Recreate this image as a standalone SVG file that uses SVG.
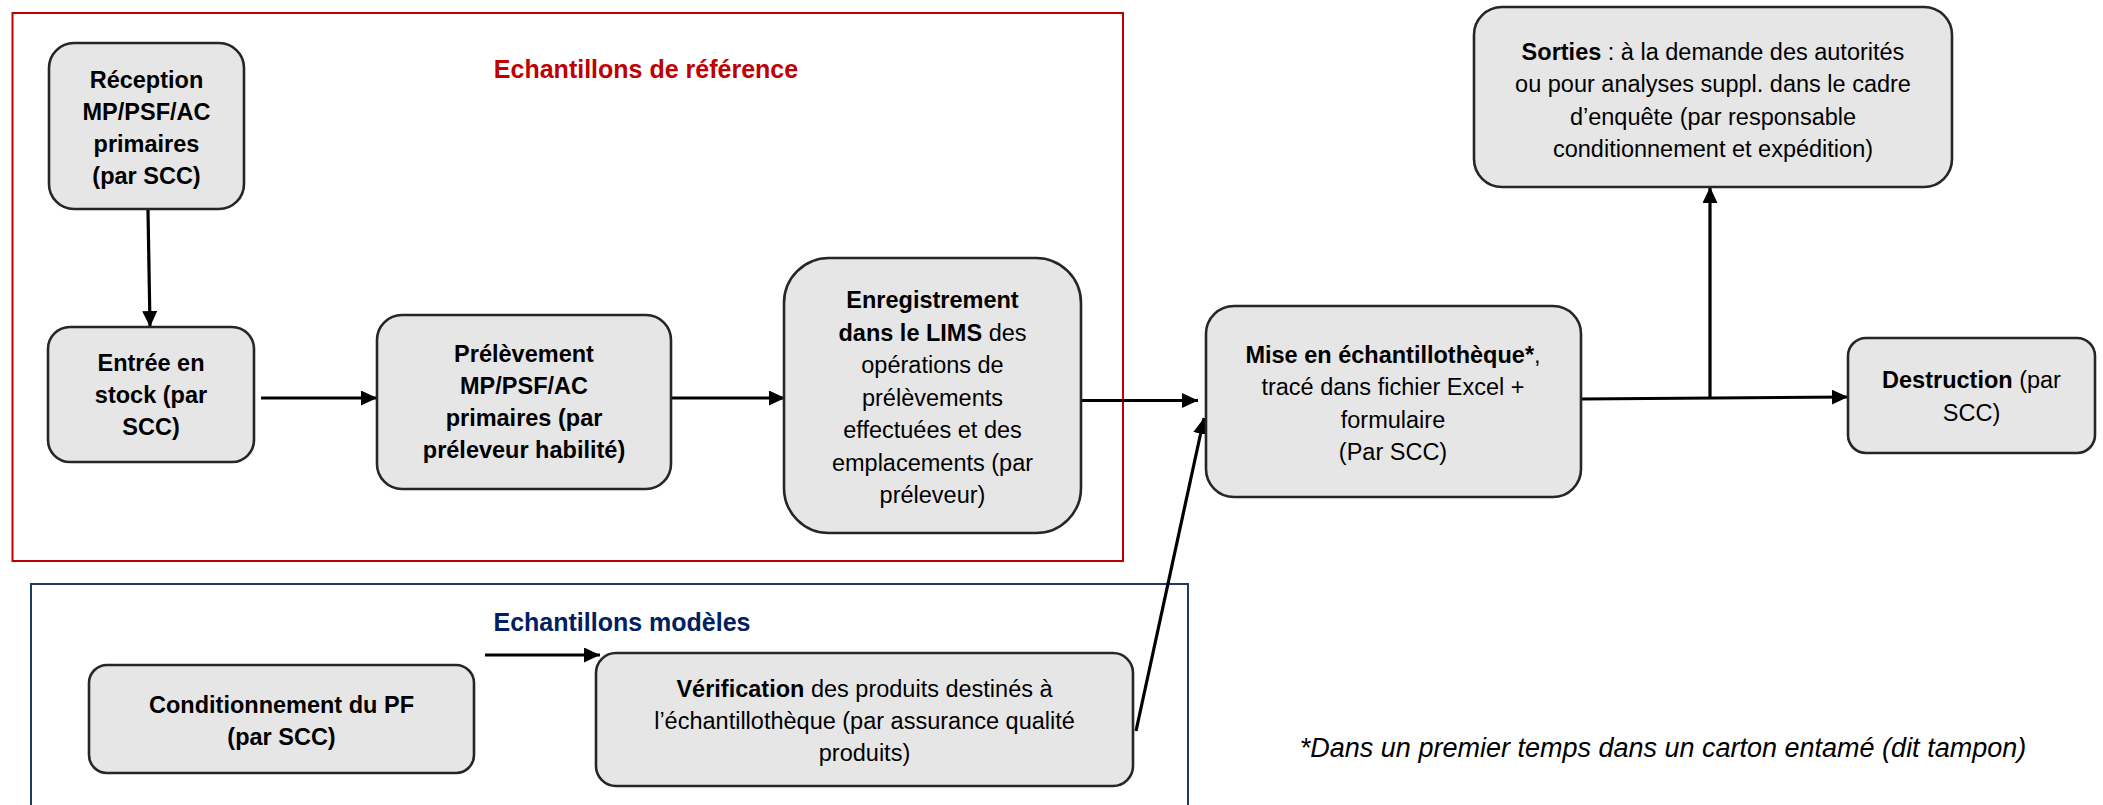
<svg xmlns="http://www.w3.org/2000/svg" width="2103" height="805" viewBox="0 0 2103 805">
<style>
.box{fill:#e6e6e6;stroke:#262626;stroke-width:2.6}
.t{font-family:"Liberation Sans",Arial,sans-serif;font-size:23.5px;fill:#000;text-anchor:middle}
.b{font-weight:bold}
.conn{stroke:#000;stroke-width:3.2;fill:none;marker-end:url(#ah)}
.title{font-family:"Liberation Sans",Arial,sans-serif;font-size:25px;font-weight:bold;text-anchor:middle}
</style>
<defs>
<marker id="ah" markerUnits="userSpaceOnUse" markerWidth="17" markerHeight="16" refX="16" refY="7.5" orient="auto">
<path d="M0,0 L16,7.5 L0,15 z" fill="#000"/>
</marker>
</defs>
<rect id="frame-reference" x="12.5" y="13" width="1110.5" height="548" fill="none" stroke="#c00000" stroke-width="2"/>
<rect id="frame-modeles" x="31" y="584" width="1157" height="240" fill="none" stroke="#203864" stroke-width="2"/>
<text class="title" x="646" y="78" fill="#c00000">Echantillons de référence</text>
<text class="title" x="622" y="631" fill="#002060">Echantillons modèles</text>
<g id="connectors">
<path class="conn" d="M148,210 L150,327"/>
<path class="conn" d="M261,398 L377,398"/>
<path class="conn" d="M671,398 L785,398"/>
<path class="conn" d="M1081,400.5 L1198,400.5"/>
<path class="conn" d="M1581,399 L1848,397"/>
<path class="conn" d="M1710,398 L1710,187"/>
<path class="conn" d="M485,655 L600,655"/>
<path class="conn" d="M1136,731 L1204,418"/>
</g>
<g id="reception">
<rect class="box" x="49" y="43" width="195" height="166" rx="25"/>
<text class="t b" x="146.5" y="88">Réception</text>
<text class="t b" x="146.5" y="120">MP/PSF/AC</text>
<text class="t b" x="146.5" y="152">primaires</text>
<text class="t b" x="146.5" y="184">(par SCC)</text>
</g>
<g id="entree">
<rect class="box" x="48" y="327" width="206" height="135" rx="22"/>
<text class="t b" x="151" y="371">Entrée en</text>
<text class="t b" x="151" y="403">stock (par</text>
<text class="t b" x="151" y="435">SCC)</text>
</g>
<g id="prelevement">
<rect class="box" x="377" y="315" width="294" height="174" rx="25"/>
<text class="t b" x="524" y="362">Prélèvement</text>
<text class="t b" x="524" y="394">MP/PSF/AC</text>
<text class="t b" x="524" y="426">primaires (par</text>
<text class="t b" x="524" y="458">préleveur habilité)</text>
</g>
<g id="enregistrement">
<rect class="box" x="784" y="258" width="297" height="275" rx="45"/>
<text class="t b" x="932.5" y="308">Enregistrement</text>
<text class="t" x="932.5" y="340.5"><tspan class="b">dans le LIMS</tspan> des</text>
<text class="t" x="932.5" y="373">opérations de</text>
<text class="t" x="932.5" y="405.5">prélèvements</text>
<text class="t" x="932.5" y="438">effectuées et des</text>
<text class="t" x="932.5" y="470.5">emplacements (par</text>
<text class="t" x="932.5" y="503">préleveur)</text>
</g>
<g id="mise">
<rect class="box" x="1206" y="306" width="375" height="191" rx="28"/>
<text class="t" x="1393" y="362.5"><tspan class="b">Mise en échantillothèque*</tspan>,</text>
<text class="t" x="1393" y="395">tracé dans fichier Excel +</text>
<text class="t" x="1393" y="427.5">formulaire</text>
<text class="t" x="1393" y="460">(Par SCC)</text>
</g>
<g id="sorties">
<rect class="box" x="1474" y="7" width="478" height="180" rx="28"/>
<text class="t" x="1713" y="59.5"><tspan class="b">Sorties</tspan> : à la demande des autorités</text>
<text class="t" x="1713" y="92">ou pour analyses suppl. dans le cadre</text>
<text class="t" x="1713" y="124.5">d’enquête (par responsable</text>
<text class="t" x="1713" y="157">conditionnement et expédition)</text>
</g>
<g id="destruction">
<rect class="box" x="1848" y="338" width="247" height="115" rx="18"/>
<text class="t" x="1971.5" y="388"><tspan class="b">Destruction</tspan> (par</text>
<text class="t" x="1971.5" y="421">SCC)</text>
</g>
<g id="conditionnement">
<rect class="box" x="89" y="665" width="385" height="108" rx="18"/>
<text class="t b" x="281.5" y="713">Conditionnement du PF</text>
<text class="t b" x="281.5" y="745">(par SCC)</text>
</g>
<g id="verification">
<rect class="box" x="596" y="653" width="537" height="133" rx="20"/>
<text class="t" x="864.5" y="697"><tspan class="b">Vérification</tspan> des produits destinés à</text>
<text class="t" x="864.5" y="729">l’échantillothèque (par assurance qualité</text>
<text class="t" x="864.5" y="761">produits)</text>
</g>
<text id="footnote" x="1663" y="757" font-family="'Liberation Sans',Arial,sans-serif" font-size="27" font-style="italic" text-anchor="middle">*Dans un premier temps dans un carton entamé (dit tampon)</text>
</svg>
